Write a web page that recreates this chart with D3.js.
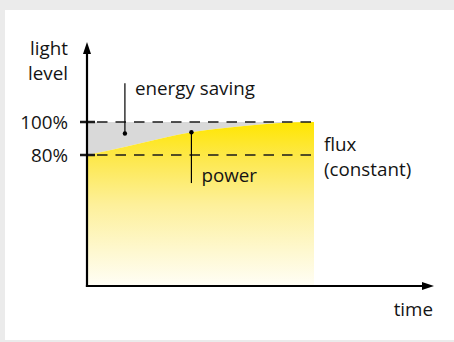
<!DOCTYPE html>
<html>
<head>
<meta charset="utf-8">
<script src="https://cdn.jsdelivr.net/npm/d3@7"></script>
<style>
  html, body { margin: 0; padding: 0; background: #ebebeb; }
  svg { display: block; }
  text { font-family: "Open Sans", "DejaVu Sans", sans-serif; fill: #141414; }
</style>
</head>
<body>
<script>
// Light output over time: lumen maintenance raises power so flux stays constant.
const timeSteps   = [0, 1.7, 3.4, 4.6, 6.7, 8.3, 10];
const powerLevel  = [80, 85, 90.5, 93.8, 97.3, 99.3, 100];
const tickValues  = [100, 80];
const tickLabels  = ["100%", "80%"];
const axisLabels  = { y: ["light", "level"], x: "time" };
const fluxLabel   = ["flux", "(constant)"];
const savingMark  = { t: 1.67, v: 93, top: 123.5, label: "energy saving" };
const powerMark   = { t: 4.6, bottom: 63, label: "power" };

const W = 454, H = 342, FS = 18.8;
const svg = d3.select("body").append("svg").attr("width", W).attr("height", H);

// white panel
svg.append("rect").attr("x", 5).attr("y", 10).attr("width", W - 5).attr("height", 330).attr("fill", "#fff");

const x = d3.scaleLinear().domain([0, 10]).range([87, 314]);
const y = d3.scaleLinear().domain([0, 100]).range([287, 122]);

const data = timeSteps.map((t, i) => ({ t, v: powerLevel[i] }));

const defs = svg.append("defs");
const grad = defs.append("linearGradient").attr("id", "glow")
  .attr("gradientUnits", "userSpaceOnUse")
  .attr("x1", 0).attr("x2", 0).attr("y1", y(100)).attr("y2", y(0));
[[0, "#ffe600"], [0.22, "#fde84c"], [0.5, "#fdf09a"], [0.78, "#fef8cf"], [1, "#fffef7"]]
  .forEach(([o, c]) => grad.append("stop").attr("offset", o).attr("stop-color", c));

// grey band: saved energy between 100% and the power curve
svg.append("path").datum(data)
  .attr("fill", "#d9d9d9")
  .attr("d", d3.area().x(d => x(d.t)).y0(d => y(d.v)).y1(y(100)).curve(d3.curveMonotoneX));

// yellow area: power drawn
svg.append("path").datum(data)
  .attr("fill", "url(#glow)")
  .attr("d", d3.area().x(d => x(d.t)).y0(y(0)).y1(d => y(d.v)).curve(d3.curveMonotoneX));

// dashed reference levels with ticks
tickValues.forEach((v, i) => {
  svg.append("line").attr("x1", x(0) + 10).attr("x2", x(10)).attr("y1", y(v)).attr("y2", y(v))
    .attr("stroke", "#1a1a1a").attr("stroke-width", 1.5).attr("stroke-dasharray", "10.5,8");
  svg.append("line").attr("x1", 80).attr("x2", 95).attr("y1", y(v)).attr("y2", y(v))
    .attr("stroke", "#1a1a1a").attr("stroke-width", 2.5);
  svg.append("text").attr("x", 68).attr("y", y(v) + 7).attr("text-anchor", "end")
    .attr("font-size", FS).text(tickLabels[i]);
});

// axes with arrowheads
const ax0 = x(0), ay0 = 286;
svg.append("line").attr("x1", ax0).attr("x2", ax0).attr("y1", ay0 + 1).attr("y2", 52)
  .attr("stroke", "#000").attr("stroke-width", 2.2);
svg.append("path").attr("d", `M${ax0},42 L${ax0 + 4},54 L${ax0 - 4},54 Z`).attr("fill", "#000");
svg.append("line").attr("x1", ax0 - 1.1).attr("x2", 424).attr("y1", ay0).attr("y2", ay0)
  .attr("stroke", "#000").attr("stroke-width", 2.2);
svg.append("path").attr("d", `M434,${ay0} L422,${ay0 - 4} L422,${ay0 + 4} Z`).attr("fill", "#000");

// axis titles
axisLabels.y.forEach((s, i) => {
  svg.append("text").attr("x", 68).attr("y", 55 + i * 25).attr("text-anchor", "end")
    .attr("font-size", FS).text(s);
});
svg.append("text").attr("x", 433).attr("y", 316).attr("text-anchor", "end")
  .attr("font-size", FS).text(axisLabels.x);

// flux label
fluxLabel.forEach((s, i) => {
  svg.append("text").attr("x", 324).attr("y", 151 + i * 25).attr("font-size", FS).text(s);
});

// energy saving pointer
svg.append("line").attr("x1", x(savingMark.t)).attr("x2", x(savingMark.t))
  .attr("y1", y(savingMark.top)).attr("y2", y(savingMark.v))
  .attr("stroke", "#000").attr("stroke-width", 1.2);
svg.append("circle").attr("cx", x(savingMark.t)).attr("cy", y(savingMark.v)).attr("r", 2.2).attr("fill", "#000");
svg.append("text").attr("x", x(savingMark.t) + 10).attr("y", 95).attr("font-size", FS).text(savingMark.label);

// power pointer
const pv = powerLevel[timeSteps.indexOf(powerMark.t)];
svg.append("line").attr("x1", x(powerMark.t)).attr("x2", x(powerMark.t))
  .attr("y1", y(pv)).attr("y2", y(powerMark.bottom))
  .attr("stroke", "#000").attr("stroke-width", 1.2);
svg.append("circle").attr("cx", x(powerMark.t)).attr("cy", y(pv)).attr("r", 2.2).attr("fill", "#000");
svg.append("text").attr("x", x(powerMark.t) + 10).attr("y", 182).attr("font-size", FS).text(powerMark.label);
</script>
</body>
</html>
